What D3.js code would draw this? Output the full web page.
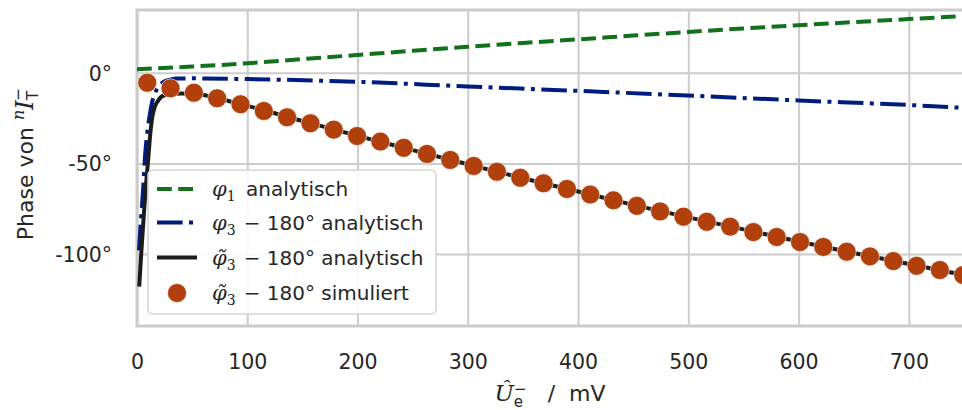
<!DOCTYPE html>
<html lang="de">
<head>
<meta charset="UTF-8">
<title>Phase</title>
<script src="https://d3js.org/d3.v7.min.js"></script>
<style>
    body { margin: 0; padding: 0; background: #fff; }
    svg { display: block; }
</style>
</head>
<body>
<svg id="chart" width="962" height="410"></svg>
<script>
// ---- data ----
var xTicks = [0, 100, 200, 300, 400, 500, 600, 700];
var yTicks = [-100, -50, 0];

// phi_1 analytisch
var phi1X = [0, 50, 100, 150, 200, 250, 300, 350, 400, 450, 500, 550, 600, 650, 700, 750];
var phi1Y = [1.9, 3.4, 5.2, 7.5, 9.8, 12.1, 14.3, 16.4, 18.4, 20.5, 22.5, 24.4, 26.2, 27.9, 29.6, 31.3];

// phi_3 - 180 analytisch
var phi3X = [1.8, 3.5, 5.7, 7.3, 9.5, 11.8, 14, 16.3, 20, 24, 30, 36, 50, 100, 200, 300, 400, 500, 600, 700, 750];
var phi3Y = [-98, -82, -63, -46, -32, -22.4, -15.5, -11.4, -7.3, -5.1, -3.8, -3.2, -3.1, -3.5, -5.0, -7.6, -10.0, -12.6, -15.3, -17.8, -19.4];

// tilde phi_3 - 180 analytisch
var phi3tX = [2, 4, 6, 8, 10, 12, 14, 16, 19, 22, 26, 30, 40, 52, 73, 94, 100, 150, 200, 250, 300, 350, 400, 450, 500, 550, 600, 650, 700, 750];
var phi3tY = [-118, -98, -80, -63, -49, -34, -24, -19, -15.5, -13.3, -12.3, -11.9, -11.5, -11.6, -14.1, -17.4, -18.3, -26.6, -34.8, -42.7, -50.5, -58.2, -65.5, -72.9, -79.8, -86.4, -93.1, -99.4, -105.5, -111.6];

// tilde phi_3 - 180 simuliert
var simX = [9.3, 30.4, 51.6, 72.7, 93.9, 115.0, 136.1, 157.3, 178.4, 199.6, 220.7, 241.9, 263.0, 284.1, 305.3, 326.4, 347.6, 368.7,
            389.9, 411.0, 432.1, 453.3, 474.4, 495.6, 516.7, 537.9, 559.0, 580.1, 601.3, 622.4, 643.6, 664.7, 685.9, 707.0, 728.1, 749.3];
var simY = [-5.5, -8.6, -11.0, -14.1, -17.4, -21.1, -24.6, -27.9, -31.4, -34.9, -38.0, -41.4, -44.8, -48.1, -51.4, -54.6, -57.9, -61.0,
            -64.1, -67.2, -70.4, -73.4, -76.5, -79.4, -82.2, -84.9, -87.9, -90.6, -93.4, -96.1, -98.7, -101.3, -103.9, -106.5, -108.8, -111.6];

var SANS = '"DejaVu Sans", sans-serif';
var SERIF = '"DejaVu Serif", serif';
var TXT = "#262626";

var svg = d3.select("#chart");
var pL = 137, pR = 964, pT = 10, pB = 326;

var x = d3.scaleLinear().domain([0, 750]).range([pL, pR]);
var y = d3.scaleLinear().domain([-139.7, 34.6]).range([pB, pT]);

svg.append("rect").attr("width", 962).attr("height", 410).attr("fill", "#fff");

svg.append("defs").append("clipPath").attr("id", "clip")
    .append("rect").attr("x", pL).attr("y", pT).attr("width", pR - pL).attr("height", pB - pT);

// grid
var xAxis = d3.axisBottom(x).tickValues(xTicks).tickSize(-(pB - pT)).tickFormat(d3.format("d"));
var gx = svg.append("g").attr("transform", "translate(0," + pB + ")").call(xAxis);
gx.select(".domain").remove();
gx.selectAll(".tick line").attr("stroke", "#cccccc").attr("stroke-width", 2);
gx.selectAll(".tick text").attr("y", 0).attr("dy", "42.5px").attr("fill", TXT)
    .style("font-family", SANS).style("font-size", "20.5px");

var yAxis = d3.axisLeft(y).tickValues(yTicks).tickSize(-(pR - pL))
    .tickFormat(function (d) { return (d < 0 ? "-" : "") + Math.abs(d) + "°"; });
var gy = svg.append("g").attr("transform", "translate(" + pL + ",0)").call(yAxis);
gy.select(".domain").remove();
gy.selectAll(".tick line").attr("stroke", "#cccccc").attr("stroke-width", 2);
gy.selectAll(".tick text").attr("x", -25).attr("dy", "0.36em").attr("fill", TXT)
    .style("font-family", SANS).style("font-size", "20.5px");

// spines
svg.append("rect").attr("x", pL).attr("y", pT).attr("width", pR - pL).attr("height", pB - pT)
    .attr("fill", "none").attr("stroke", "#cccccc").attr("stroke-width", 3);

// lines
var plot = svg.append("g").attr("clip-path", "url(#clip)");

function drawLine(xs, ys, color, dash) {
    var line = d3.line().x(function (d) { return x(d[0]); }).y(function (d) { return y(d[1]); }).curve(d3.curveMonotoneX);
    plot.append("path").datum(d3.zip(xs, ys)).attr("d", line)
        .attr("fill", "none").attr("stroke", color).attr("stroke-width", 4)
        .attr("stroke-dasharray", dash);
}

drawLine(phi1X, phi1Y, "#12711c", "14.8,6.4");
drawLine(phi3X, phi3Y, "#001c7f", "25.6,6.4,4,6.4");
drawLine(phi3tX, phi3tY, "#1c1c1c", null);

plot.selectAll("circle.sim").data(d3.zip(simX, simY)).enter().append("circle")
    .attr("class", "sim")
    .attr("cx", function (d) { return x(d[0]); })
    .attr("cy", function (d) { return y(d[1]); })
    .attr("r", 9.5)
    .attr("fill", "#b1400d").attr("stroke", "#fff").attr("stroke-width", 0.6);

// rich text helper: parts = [text, family, italic, size, dy, dx]
function rich(g, px, py, parts, anchor) {
    var t = g.append("text").attr("x", px).attr("y", py).attr("fill", TXT)
        .attr("text-anchor", anchor || "start").attr("xml:space", "preserve");
    parts.forEach(function (p) {
        var s = t.append("tspan").text(p[0])
            .style("font-family", p[1]).style("font-size", p[3] + "px")
            .style("font-style", p[2] ? "italic" : "normal");
        if (p[4]) s.attr("dy", p[4]);
        if (p[5]) s.attr("dx", p[5]);
    });
    return t;
}

// legend
var lg = svg.append("g");
lg.append("rect").attr("x", 148).attr("y", 170).attr("width", 288).attr("height", 144).attr("rx", 5)
    .attr("fill", "#fff").attr("fill-opacity", 0.85).attr("stroke", "#d6d6d6").attr("stroke-width", 1.6);

var rows = [189, 222.5, 257.5, 293];
lg.append("line").attr("x1", 157).attr("x2", 197).attr("y1", rows[0]).attr("y2", rows[0])
    .attr("stroke", "#12711c").attr("stroke-width", 4).attr("stroke-dasharray", "14.8,6.4");
lg.append("line").attr("x1", 157).attr("x2", 197).attr("y1", rows[1]).attr("y2", rows[1])
    .attr("stroke", "#001c7f").attr("stroke-width", 4).attr("stroke-dasharray", "25.6,6.4,4,6.4");
lg.append("line").attr("x1", 157).attr("x2", 197).attr("y1", rows[2]).attr("y2", rows[2])
    .attr("stroke", "#1c1c1c").attr("stroke-width", 4);
lg.append("circle").attr("cx", 177).attr("cy", rows[3]).attr("r", 9.5)
    .attr("fill", "#b1400d").attr("stroke", "#fff").attr("stroke-width", 0.6);

var phi = "\u03c6", phiT = "\u03c6\u0303";
var labels = [
    [phi, "1", null, "analytisch"],
    [phi, "3", "\u2212", "180° analytisch"],
    [phiT, "3", "\u2212", "180° analytisch"],
    [phiT, "3", "\u2212", "180° simuliert"]
];
labels.forEach(function (l, i) {
    var parts = [
        [l[0], SERIF, true, 21],
        [l[1], SERIF, false, 14, 5]
    ];
    if (l[2]) {
        parts.push([l[2], SANS, false, 20, -5, 8]);
        parts.push([" " + l[3], SANS, false, 20]);
    } else {
        parts.push([" " + l[3], SANS, false, 20, -5, 4]);
    }
    rich(lg, 212, rows[i] + 7, parts);
});

// axis labels
rich(svg, 550, 401, [
    ["U\u0302", SERIF, true, 23],
    ["e", SANS, false, 15, 6],
    ["\u2212", SANS, false, 15, -13, -9],
    ["   /  mV", SANS, false, 22, 7]
], "middle");

rich(svg, 0, 0, [
    ["Phase von ", SANS, false, 22],
    ["n", SERIF, true, 16, -9],
    ["I", SERIF, true, 24, 9],
    ["T", SANS, false, 15.5, 5],
    ["\u2212", SANS, false, 15.5, -15, -10]
], "middle").attr("transform", "translate(33,164) rotate(-90)");
</script>
</body>
</html>
